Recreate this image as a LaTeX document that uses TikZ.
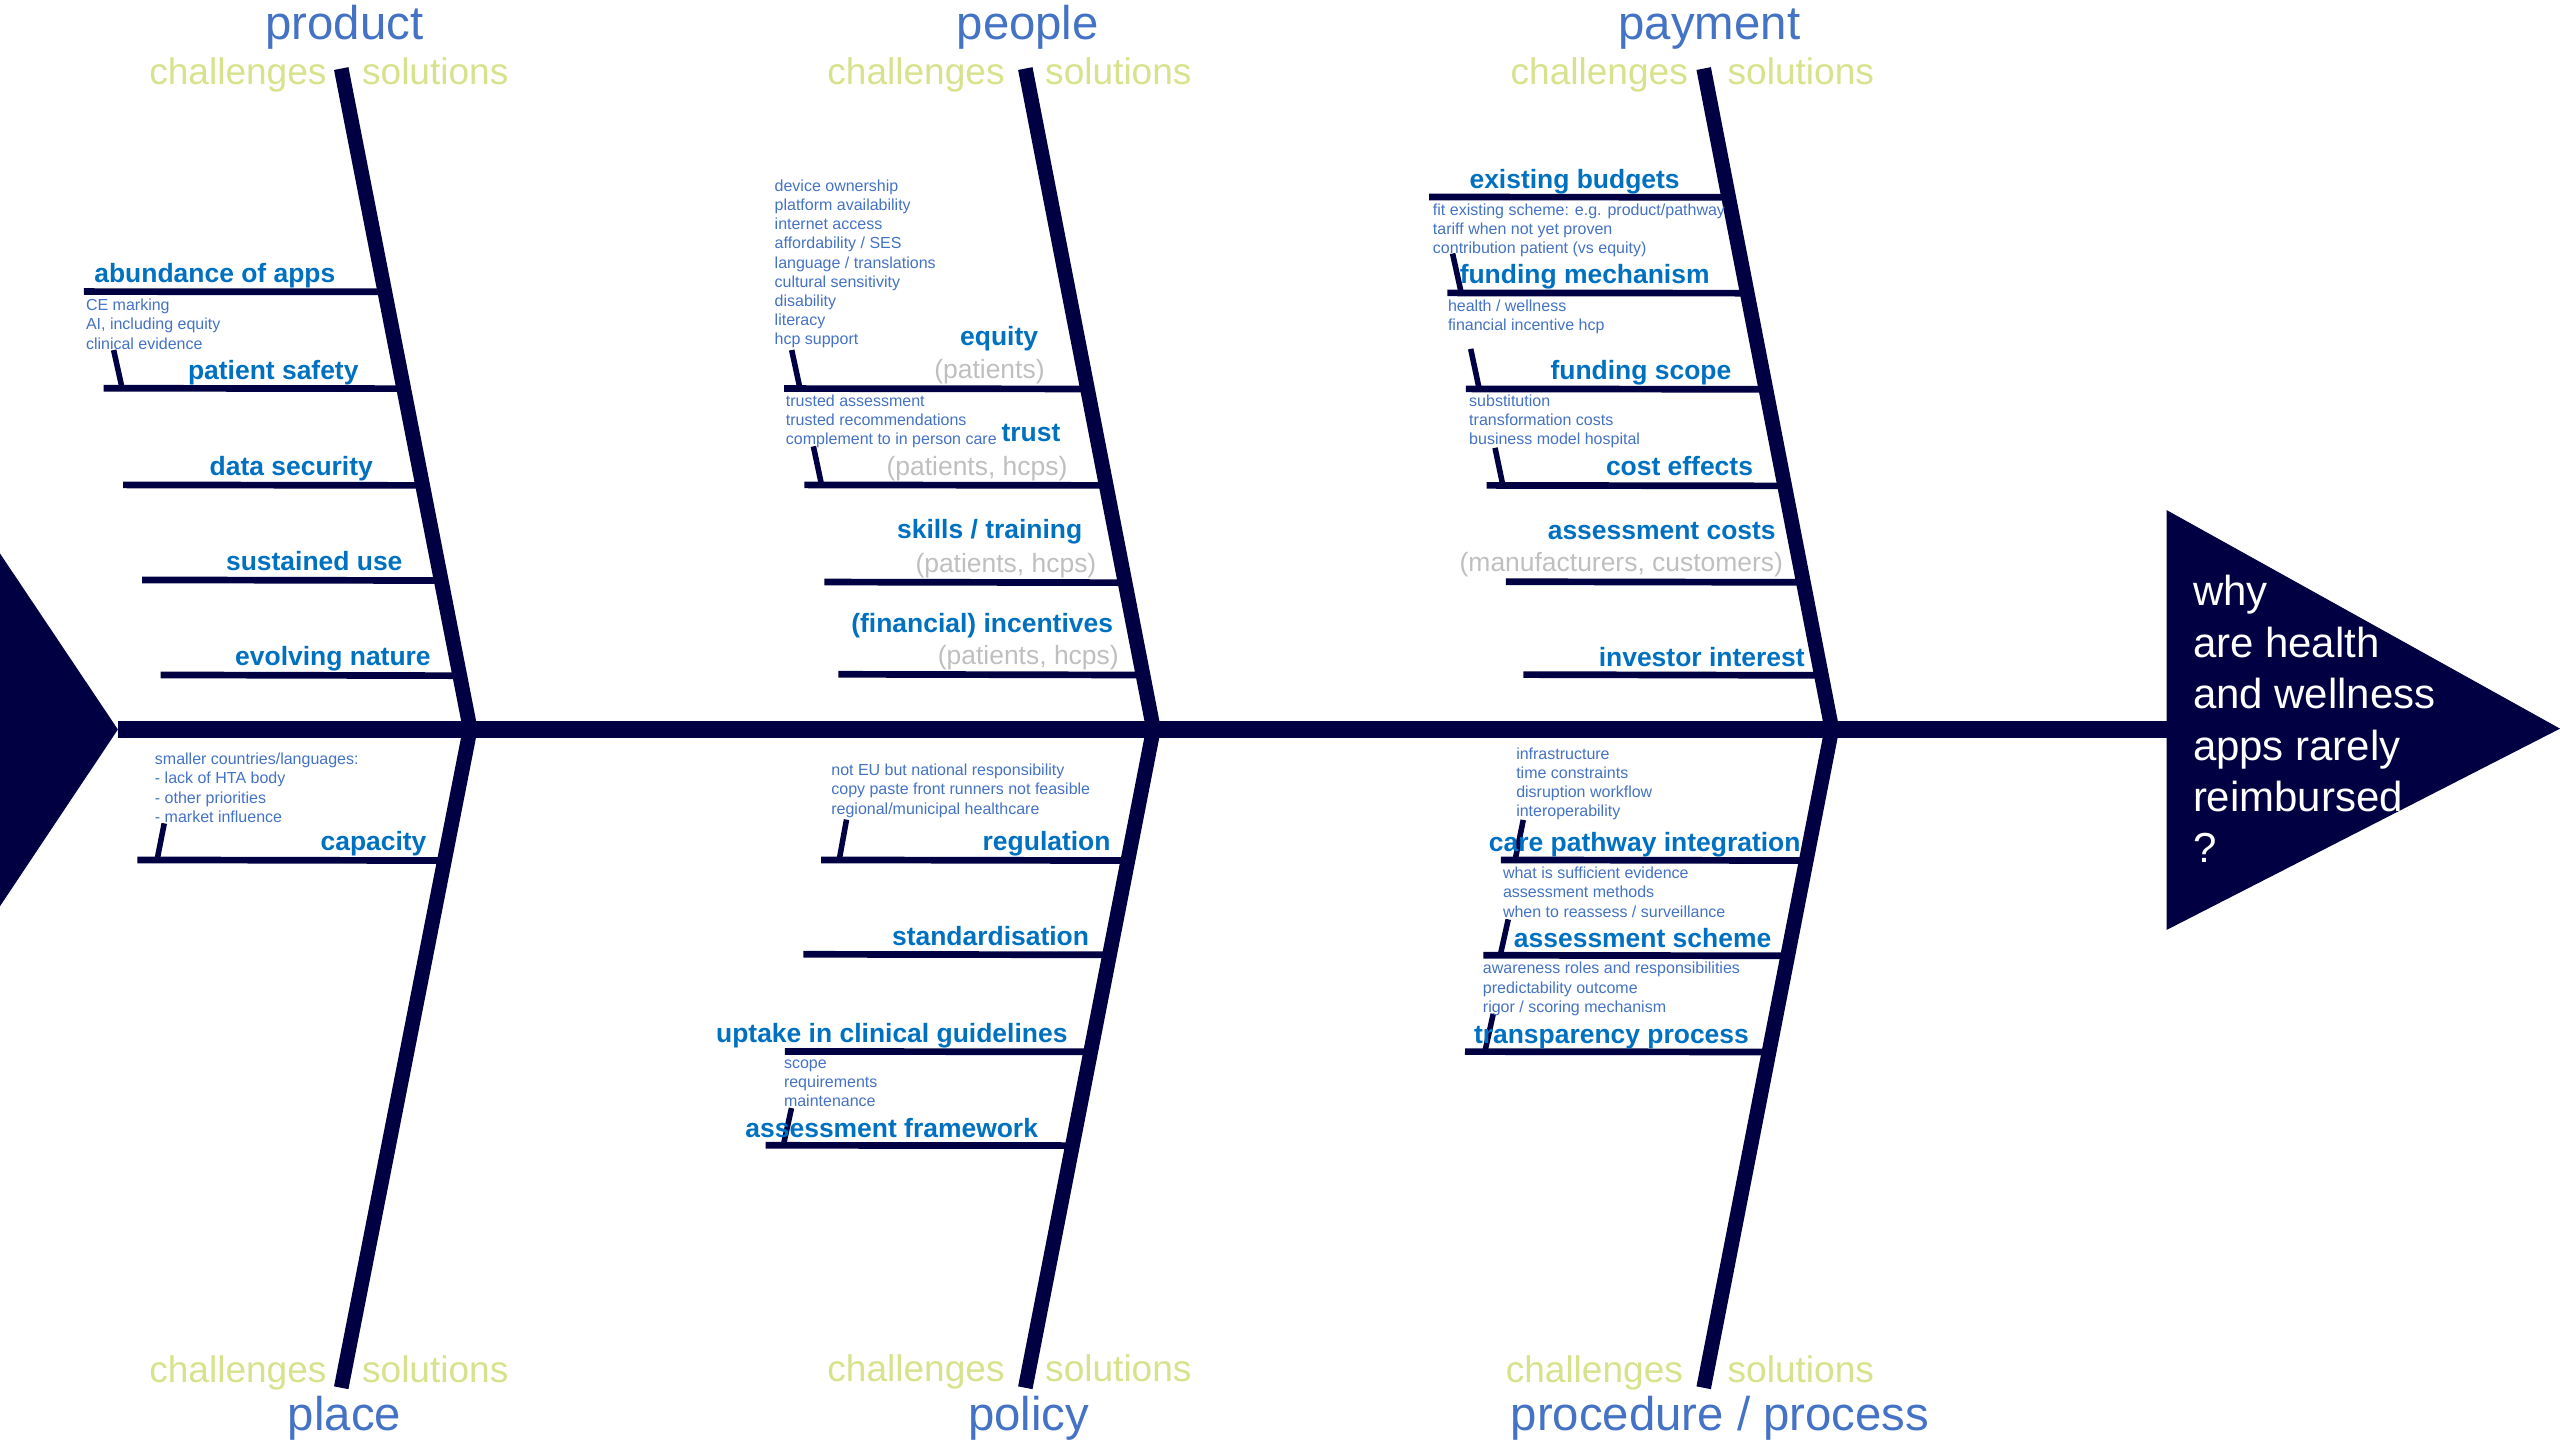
\documentclass[tikz,border=0pt]{standalone}
\usepackage{fontspec}
\setmainfont{Liberation Sans}
\usetikzlibrary{calc}

\definecolor{fishnavy}{RGB}{0,0,66}
\definecolor{catblue}{RGB}{68,114,196}
\definecolor{causeblue}{RGB}{0,112,192}
\definecolor{noteblue}{RGB}{68,114,196}
\definecolor{sidegreen}{RGB}{216,226,140}
\definecolor{whogray}{RGB}{191,191,191}

\tikzset{
  boneline/.style={draw=fishnavy, line width=9pt, line join=miter},
  spineline/.style={draw=fishnavy, line width=10.2pt},
  ribline/.style={draw=fishnavy, line width=4.1pt},
  stemline/.style={draw=fishnavy, line width=3.4pt},
  causetext/.style={font=\bfseries\fontsize{16.2}{19.4}\selectfont, text=causeblue, inner sep=0pt, anchor=base east},
  whotext/.style={font=\fontsize{16.2}{19.4}\selectfont, text=whogray, inner sep=0pt, anchor=base east},
  notetext/.style={font=\fontsize{9.8}{11.75}\selectfont, text=noteblue, inner sep=0pt, anchor=north west, align=left, execute at begin node=\strut},
  cattext/.style={font=\fontsize{29}{34.8}\selectfont, text=catblue, inner sep=0pt, anchor=base},
  sideleft/.style={font=\fontsize{22.7}{27.2}\selectfont, text=sidegreen, inner sep=0pt, anchor=base east},
  sideright/.style={font=\fontsize{22.7}{27.2}\selectfont, text=sidegreen, inner sep=0pt, anchor=base west},
  questiontext/.style={font=\fontsize{25.7}{31.5}\selectfont, text=white, inner sep=0pt, anchor=north west, align=left, execute at begin node=\strut},
}

% rib above the spine: name, height, left end, bone top, bone joint
\newcommand\upperrib[5]{%
  \coordinate (#1-l) at (#3,#2);
  \coordinate (#1-r) at ($(#4)!{(#2-42)/404}!(#5)$);
  \draw[ribline] (#1-l) -- (#1-r);}
% rib below the spine: name, height, left end, bone joint, bone end
\newcommand\lowerrib[5]{%
  \coordinate (#1-l) at (#3,#2);
  \coordinate (#1-r) at ($(#4)!{(#2-446)/404}!(#5)$);
  \draw[ribline] (#1-l) -- (#1-r);}
% short stem linking a note block to its rib
\newcommand\stem[5]{%
  \coordinate (#1-a) at (#2,#3);
  \coordinate (#1-b) at (#4,#5);
  \draw[stemline] (#1-a) -- (#1-b);}

\begin{document}
\begin{tikzpicture}[x=1pt, y=-1pt]
\useasboundingbox (0,0) rectangle (1568,882);

% bone end points
\coordinate (prodTop) at (209,42);
\coordinate (prodJoint) at (288,446.5);
\coordinate (placeEnd) at (209,850);
\coordinate (peopTop) at (628,42);
\coordinate (peopJoint) at (706.5,446.5);
\coordinate (polEnd) at (628,850);
\coordinate (payTop) at (1043.5,42);
\coordinate (payJoint) at (1122,446.5);
\coordinate (procEnd) at (1043.5,850);

% tail, head and spine
\coordinate (tailTop) at (0,339);
\coordinate (tailTip) at (72.2,446.8);
\coordinate (tailBot) at (0,555);
\fill[fishnavy] (tailTop) -- (tailTip) -- (tailBot) -- cycle;
\coordinate (headTop) at (1327,312.4);
\coordinate (headTip) at (1568,446.3);
\coordinate (headBot) at (1327,569.6);
\fill[fishnavy] (headTop) -- (headTip) -- (headBot) -- cycle;
\coordinate (spineEnd) at (1328,446.8);
\draw[spineline] (tailTip) -- (spineEnd);
\node[questiontext] (why) at (1343,352.2) {why\\are health\\and wellness\\apps rarely\\reimbursed\\?};

% product ribs
\upperrib{abundance}{178.6}{51.4}{prodTop}{prodJoint}
\upperrib{safety}{237.8}{63.4}{prodTop}{prodJoint}
\upperrib{datasec}{297}{75.4}{prodTop}{prodJoint}
\upperrib{sustained}{355.2}{87}{prodTop}{prodJoint}
\upperrib{evolving}{413.4}{98.4}{prodTop}{prodJoint}
% place ribs
\lowerrib{capacity}{526.7}{84.2}{prodJoint}{placeEnd}
% people ribs
\upperrib{equity}{238}{480.2}{peopTop}{peopJoint}
\upperrib{trust}{297}{492.6}{peopTop}{peopJoint}
\upperrib{skills}{356.5}{504.9}{peopTop}{peopJoint}
\upperrib{incentives}{413}{513.5}{peopTop}{peopJoint}
% policy ribs
\lowerrib{regulation}{526.7}{503}{peopJoint}{polEnd}
\lowerrib{standard}{584.5}{492}{peopJoint}{polEnd}
\lowerrib{uptake}{644}{480.8}{peopJoint}{polEnd}
\lowerrib{framework}{701.5}{469}{peopJoint}{polEnd}
% payment ribs
\upperrib{budgets}{120.7}{875.4}{payTop}{payJoint}
\upperrib{mechanism}{179.4}{886.5}{payTop}{payJoint}
\upperrib{scope}{238.2}{897.9}{payTop}{payJoint}
\upperrib{costeff}{297.3}{910.6}{payTop}{payJoint}
\upperrib{asscosts}{356.3}{922.4}{payTop}{payJoint}
\upperrib{investor}{413.2}{933}{payTop}{payJoint}
% procedure / process ribs
\lowerrib{pathway}{526.7}{919.3}{payJoint}{procEnd}
\lowerrib{scheme}{585.1}{908.5}{payJoint}{procEnd}
\lowerrib{transparency}{644.1}{897.3}{payJoint}{procEnd}

% main bones
\draw[boneline] (prodTop) -- (prodJoint) -- (placeEnd);
\draw[boneline] (peopTop) -- (peopJoint) -- (polEnd);
\draw[boneline] (payTop) -- (payJoint) -- (procEnd);

% stems from note blocks down to ribs
\stem{safetyStem}{69.6}{214.4}{74.8}{237.8}
\stem{capacityStem}{100.6}{504.3}{96.2}{526.7}
\stem{equityStem}{484.9}{214.4}{490}{238}
\stem{trustStem}{498.2}{273.4}{503.2}{297}
\stem{regulationStem}{518.5}{502}{514}{526.7}
\stem{frameworkStem}{484.8}{678.7}{479.8}{701.5}
\stem{mechanismStem}{889.7}{155.3}{895}{179.4}
\stem{scopeStem}{900.8}{213.7}{906}{238.2}
\stem{costeffStem}{915.7}{274.3}{920.5}{297.3}
\stem{pathwayStem}{933}{502.2}{928}{526.7}
\stem{schemeStem}{923.8}{563.1}{918.9}{585.1}
\stem{transparencyStem}{914.6}{621}{909.5}{644.1}

% category headings
\node[cattext] (product) at (211,24.5) {product};
\node[cattext] (people) at (629.5,24.5) {people};
\node[cattext] (payment) at (1047,24.5) {payment};
\node[cattext] (place) at (211,876) {place};
\node[cattext] (policy) at (630,876) {policy};
\node[cattext] (procedure) at (1053.5,876) {procedure / process};

\node[sideleft] (prodCh) at (200.2,51.5) {challenges};
\node[sideright] (prodSo) at (221.6,51.5) {solutions};
\node[sideleft] (peopCh) at (615.5,51.5) {challenges};
\node[sideright] (peopSo) at (640,51.5) {solutions};
\node[sideleft] (payCh) at (1034,52) {challenges};
\node[sideright] (paySo) at (1058,52) {solutions};
\node[sideleft] (placeCh) at (200.2,847) {challenges};
\node[sideright] (placeSo) at (221.6,847) {solutions};
\node[sideleft] (polCh) at (615.5,846) {challenges};
\node[sideright] (polSo) at (640,846) {solutions};
\node[sideleft] (procCh) at (1031,847) {challenges};
\node[sideright] (procSo) at (1058,847) {solutions};

% product causes
\node[causetext] (abundanceLbl) at (205.6,173.1) {abundance of apps};
\node[notetext] (abundanceNote) at (52.5,183) {CE marking\\AI, including equity\\clinical evidence};
\node[causetext] (safetyLbl) at (219.8,232.3) {patient safety};
\node[causetext] (datasecLbl) at (228.6,291.5) {data security};
\node[causetext] (sustainedLbl) at (246.7,349.7) {sustained use};
\node[causetext] (evolvingLbl) at (264,407.9) {evolving nature};
% place causes
\node[causetext] (capacityLbl) at (261.4,521.2) {capacity};
\node[notetext] (capacityNote) at (94.7,461.1) {smaller countries/languages:\\- lack of HTA body\\- other priorities\\- market influence};
% people causes
\node[causetext] (equityLbl) at (636,211.5) {equity};
\node[whotext] (equityWho) at (640,232) {(patients)};
\node[notetext] (equityNote) at (474.3,109.9) {device ownership\\platform availability\\internet access\\affordability / SES\\language / translations\\cultural sensitivity\\disability\\literacy\\hcp support};
\node[causetext] (trustLbl) at (649.7,270.5) {trust};
\node[whotext] (trustWho) at (654,291) {(patients, hcps)};
\node[notetext] (trustNote) at (481.2,241.6) {trusted assessment\\trusted recommendations\\complement to in person care};
\node[causetext] (skillsLbl) at (663.1,330) {skills / training};
\node[whotext] (skillsWho) at (671.7,350.5) {(patients, hcps)};
\node[causetext] (incentivesLbl) at (681.9,387.5) {(financial) incentives};
\node[whotext] (incentivesWho) at (685.4,407) {(patients, hcps)};
% policy causes
\node[causetext] (regulationLbl) at (680.4,521.2) {regulation};
\node[notetext] (regulationNote) at (509,467.8) {not EU but national responsibility\\copy paste front runners not feasible\\regional/municipal healthcare};
\node[causetext] (standardLbl) at (667.2,579) {standardisation};
\node[causetext] (uptakeLbl) at (654,638.5) {uptake in clinical guidelines};
\node[notetext] (uptakeNote) at (480,649) {scope\\requirements\\maintenance};
\node[causetext] (frameworkLbl) at (636,697) {assessment framework};
% payment causes
\node[causetext] (budgetsLbl) at (1029,115.2) {existing budgets};
\node[notetext] (budgetsNote) at (877.5,124.6) {fit existing scheme: e.g. product/pathway\\tariff when not yet proven\\contribution patient (vs equity)};
\node[causetext] (mechanismLbl) at (1047.3,173.9) {funding mechanism};
\node[notetext] (mechanismNote) at (886.7,183.2) {health / wellness\\financial incentive hcp};
\node[causetext] (scopeLbl) at (1060.6,232.7) {funding scope};
\node[notetext] (scopeNote) at (899.7,241.6) {substitution\\transformation costs\\business model hospital};
\node[causetext] (costeffLbl) at (1073.9,291.3) {cost effects};
\node[causetext] (asscostsLbl) at (1087.8,330.3) {assessment costs};
\node[whotext] (asscostsWho) at (1092.3,350) {(manufacturers, customers)};
\node[causetext] (investorLbl) at (1105.5,408.2) {investor interest};
% procedure / process causes
\node[causetext] (pathwayLbl) at (1103,521.7) {care pathway integration};
\node[notetext] (pathwayNote) at (928.5,457.6) {infrastructure\\time constraints\\disruption workflow\\interoperability};
\node[causetext] (schemeLbl) at (1085.1,580.1) {assessment scheme};
\node[notetext] (schemeNote) at (920.4,530.9) {what is sufficient evidence\\assessment methods\\when to reassess / surveillance};
\node[causetext] (transparencyLbl) at (1071.4,639.1) {transparency process};
\node[notetext] (transparencyNote) at (908.1,589.2) {awareness roles and responsibilities\\predictability outcome\\rigor / scoring mechanism};

\end{tikzpicture}
\end{document}
